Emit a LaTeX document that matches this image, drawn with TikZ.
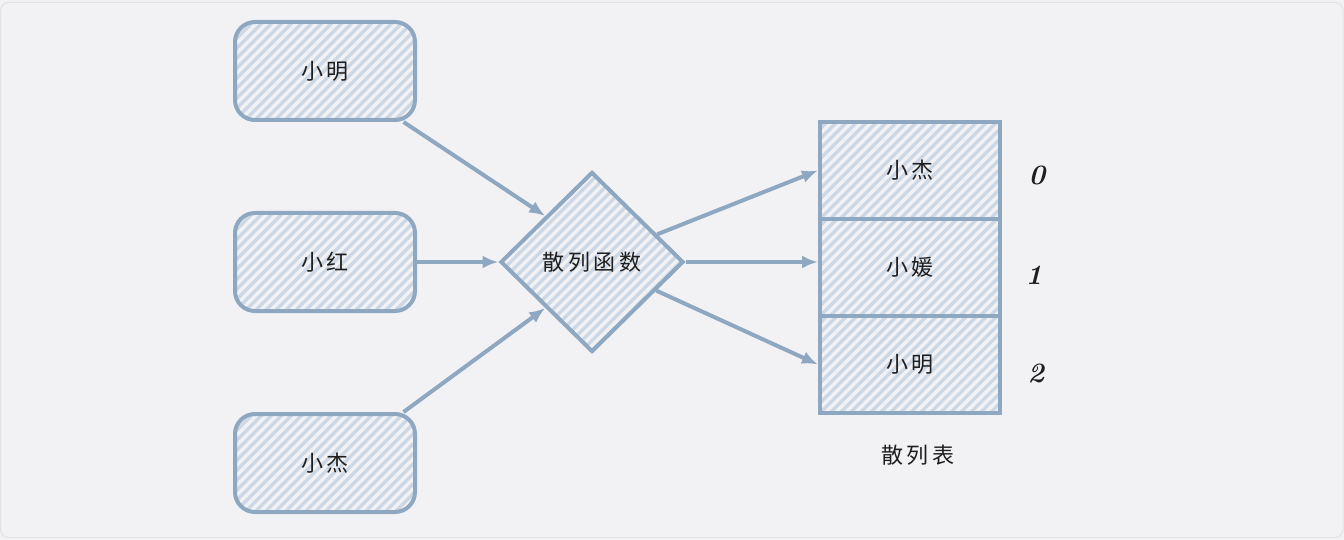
\documentclass[tikz,border=0pt]{standalone}
\usepackage{fontspec}
\newfontfamily\cjk{Noto Sans CJK SC}
\usetikzlibrary{arrows.meta,shapes.geometric}
\definecolor{bg}{HTML}{F2F2F5}
\definecolor{edge}{HTML}{E2E2E6}
\definecolor{stroke}{HTML}{8FA8C2}
\definecolor{hatch}{HTML}{CCD8E6}
\definecolor{ink}{HTML}{1E1E1E}
\tikzset{
  hatched/.style={path picture={
    \foreach \i in {-400,-390,...,400}
      \draw[hatch,line width=3.2pt] ([xshift=\i pt]path picture bounding box.south west) -- ++(300pt,300pt);
  }},
  rbox/.style={rectangle,rounded corners=20pt,draw=stroke,line width=4pt,hatched,
    minimum width=180pt,minimum height=98pt,font=\cjk\fontsize{22}{26}\selectfont,text=ink},
  cell/.style={rectangle,draw=stroke,line width=4pt,hatched,
    minimum width=180pt,minimum height=97pt,font=\cjk\fontsize{22}{26}\selectfont,text=ink},
  dia/.style={diamond,draw=stroke,line width=4pt,hatched,aspect=1,
    minimum width=183pt,minimum height=180pt,inner sep=0pt,font=\cjk\fontsize{22}{26}\selectfont,text=ink},
  conn/.style={draw=stroke,line width=4pt,-{Latex[length=16pt,width=13pt]}},
  idx/.style={font=\fontsize{28}{32}\selectfont\bfseries\itshape,text=ink},
  captext/.style={font=\cjk\fontsize{22}{26}\selectfont,text=ink}
}
\begin{document}
\begin{tikzpicture}[x=1pt,y=-1pt]
\useasboundingbox (0,0) rectangle (1344,540);
\fill[bg] (0,0) rectangle (1344,540);
\draw[edge,line width=1pt,rounded corners=8pt] (0.5,2.5) rectangle (1343,537.5);

\node[rbox] (a) at (325,71) {小\,明};
\node[rbox] (b) at (325,262) {小\,红};
\node[rbox] (c) at (325,463) {小\,杰};

\node[dia] (h) at (592,262) {散\,列\,函\,数};

\node[cell] (t0) at (910,170.5) {小\,杰};
\node[cell] (t1) at (910,267.5) {小\,媛};
\node[cell] (t2) at (910,364.5) {小\,明};

\node[idx] (n0) at (1037,175) {0};
\node[idx] (n1) at (1034,275) {1};
\node[idx] (n2) at (1036,373) {2};
\node[captext] (tcap) at (918,455) {散\,列\,表};

\draw[conn] (a.-33) -- (h.north west);
\draw[conn] (b.east) -- (h.west);
\draw[conn] (c.33) -- (h.south west);
\draw[conn] (h.23) -- (t0.west);
\draw[conn] (h.east) -- (h.east -| t1.west);
\draw[conn] (h.-24) -- (t2.west);
\end{tikzpicture}
\end{document}
